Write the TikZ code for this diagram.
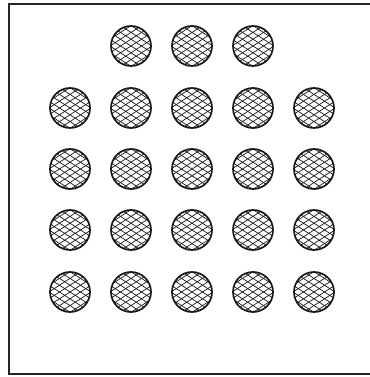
\documentclass[tikz,border=0pt]{standalone}
\begin{document}
\begin{tikzpicture}[x=1pt,y=1pt,
  frame/.style={draw=black!85, line width=1.4pt},
  dot/.style={circle, draw=black!90, line width=1.7pt, minimum size=40pt, inner sep=0pt,
    path picture={
      \foreach \k in {-5,...,5} {
        \draw[line width=0.7pt, black!90] ([shift={(\k*10.5pt,0pt)}]path picture bounding box.center) ++(-30pt,-19.4pt) -- ++(60pt,38.8pt);
        \draw[line width=0.7pt, black!90] ([shift={(\k*10.5pt,0pt)}]path picture bounding box.center) ++(-30pt,19.4pt) -- ++(60pt,-38.8pt);
      }
    }}]
\useasboundingbox (0,0) rectangle (369,377);
\coordinate (tr) at (372,373);
\coordinate (tl) at (9,373);
\coordinate (bl) at (9,3);
\coordinate (br) at (372,3);
\draw[frame] (tr) -- (tl) -- (bl) -- (br);
% top row
\node[dot] (t1) at (131,331) {};
\node[dot] (t2) at (192,331) {};
\node[dot] (t3) at (253,331) {};
% grid
\foreach \r/\y in {1/269,2/208,3/147,4/85} {
  \foreach \c/\x in {1/70,2/131,3/192,4/253,5/314} {
    \node[dot] (d\r\c) at (\x,\y) {};
  }
}
\end{tikzpicture}
\end{document}
